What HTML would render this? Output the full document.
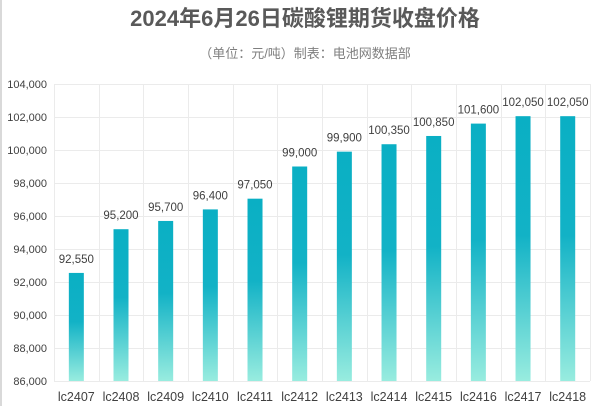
<!DOCTYPE html><html><head><meta charset="utf-8"><style>body{margin:0;background:#fff}svg{display:block}</style></head><body>
<svg width="609" height="406" xmlns="http://www.w3.org/2000/svg" font-family="Liberation Sans, Noto Sans CJK SC, sans-serif">
<defs><linearGradient id="g" x1="0" y1="0" x2="0" y2="1"><stop offset="0" stop-color="#0aafc4"/><stop offset="0.45" stop-color="#12b2c6"/><stop offset="1" stop-color="#98ecdf"/></linearGradient></defs>
<rect x="0" y="0" width="2" height="406" fill="#d9d9d9"/>
<text x="305" y="26" text-anchor="middle" font-size="22" font-weight="bold" fill="#595959">2024年6月26日碳酸锂期货收盘价格</text>
<text x="305" y="58" text-anchor="middle" font-size="13" fill="#7f7f7f">（单位：元/吨）制表：电池网数据部</text>
<g stroke="#ebebeb" stroke-width="1">
<line x1="54" y1="84.5" x2="590" y2="84.5"/><line x1="54" y1="117.5" x2="590" y2="117.5"/><line x1="54" y1="150.5" x2="590" y2="150.5"/><line x1="54" y1="183.5" x2="590" y2="183.5"/><line x1="54" y1="216.5" x2="590" y2="216.5"/><line x1="54" y1="249.5" x2="590" y2="249.5"/><line x1="54" y1="282.5" x2="590" y2="282.5"/><line x1="54" y1="315.5" x2="590" y2="315.5"/><line x1="54" y1="348.5" x2="590" y2="348.5"/><line x1="54" y1="381.5" x2="590" y2="381.5"/>
</g>
<g stroke="#ebebeb" id="v"></g>
<g font-size="11" fill="#404040" text-anchor="end" id="yl"></g>
<g id="bars"></g>
<script>
var ns="http://www.w3.org/2000/svg";function el(t,a,txt,p){var e=document.createElementNS(ns,t);for(var k in a)e.setAttribute(k,a[k]);if(txt)e.textContent=txt;document.getElementById(p).appendChild(e);}
for(var i=0;i<10;i++){var v=86000+i*2000;el("text",{x:47,y:385-i*33},v.toLocaleString("en-US"),"yl");}
var d=[92550,95200,95700,96400,97050,99000,99900,100350,100850,101600,102050,102050];
var w=44.67;
for(var i=0;i<=12;i++){var x=Math.round(54+i*w)+0.5;el("line",{x1:x,y1:84,x2:x,y2:381},null,"v");}
for(var i=0;i<12;i++){var c=54+w*(i+0.5);var y=381-(d[i]-86000)/18000*297;
el("rect",{x:c-7.5,y:y,width:15,height:381-y,fill:"url(#g)"},null,"bars");
el("text",{x:c,y:y-10,"text-anchor":"middle","font-size":"11.5",fill:"#404040"},d[i].toLocaleString("en-US"),"bars");
el("text",{x:c,y:401,"text-anchor":"middle","font-size":"12.5",fill:"#404040"},"lc"+(2407+i),"bars");}
</script>
</svg></body></html>
